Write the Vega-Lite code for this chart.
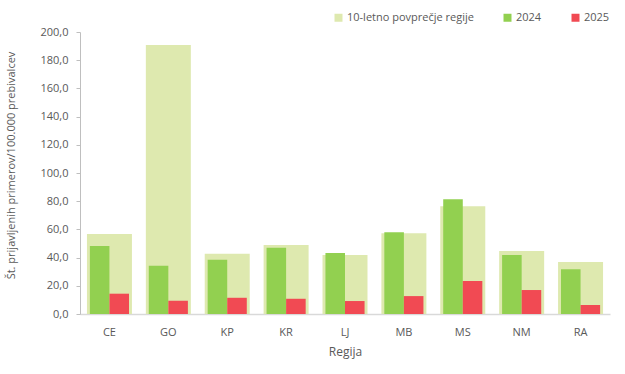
{
  "$schema": "https://vega.github.io/schema/vega-lite/v6.json",
  "width": 530,
  "height": 282,
  "autosize": "none",
  "padding": {"left": 80, "top": 32, "right": 15, "bottom": 60},
  "config": {
    "view": {"stroke": null},
    "font": "Open Sans",
    "axis": {"labelFont": "Open Sans", "titleFont": "Open Sans", "labelColor": "#595959", "titleColor": "#595959", "grid": false}
  },
  "data": {
    "values": [
      {"regija": "CE", "serija": "10-letno povprečje regije", "vrednost": 56.8},
      {"regija": "GO", "serija": "10-letno povprečje regije", "vrednost": 190.8},
      {"regija": "KP", "serija": "10-letno povprečje regije", "vrednost": 42.7},
      {"regija": "KR", "serija": "10-letno povprečje regije", "vrednost": 49.0},
      {"regija": "LJ", "serija": "10-letno povprečje regije", "vrednost": 41.8},
      {"regija": "MB", "serija": "10-letno povprečje regije", "vrednost": 57.3},
      {"regija": "MS", "serija": "10-letno povprečje regije", "vrednost": 76.4},
      {"regija": "NM", "serija": "10-letno povprečje regije", "vrednost": 44.6},
      {"regija": "RA", "serija": "10-letno povprečje regije", "vrednost": 36.8},
      {"regija": "CE", "serija": "2024", "vrednost": 48.3},
      {"regija": "GO", "serija": "2024", "vrednost": 34.2},
      {"regija": "KP", "serija": "2024", "vrednost": 38.4},
      {"regija": "KR", "serija": "2024", "vrednost": 46.9},
      {"regija": "LJ", "serija": "2024", "vrednost": 43.2},
      {"regija": "MB", "serija": "2024", "vrednost": 58.0},
      {"regija": "MS", "serija": "2024", "vrednost": 81.4},
      {"regija": "NM", "serija": "2024", "vrednost": 41.8},
      {"regija": "RA", "serija": "2024", "vrednost": 31.8},
      {"regija": "CE", "serija": "2025", "vrednost": 14.4},
      {"regija": "GO", "serija": "2025", "vrednost": 9.4},
      {"regija": "KP", "serija": "2025", "vrednost": 11.5},
      {"regija": "KR", "serija": "2025", "vrednost": 10.8},
      {"regija": "LJ", "serija": "2025", "vrednost": 9.2},
      {"regija": "MB", "serija": "2025", "vrednost": 12.7},
      {"regija": "MS", "serija": "2025", "vrednost": 23.4},
      {"regija": "NM", "serija": "2025", "vrednost": 17.0},
      {"regija": "RA", "serija": "2025", "vrednost": 6.4}
    ]
  },
  "encoding": {
    "x": {
      "field": "regija", "type": "nominal", "sort": null,
      "scale": {"paddingInner": 0.236, "paddingOuter": 0.118},
      "axis": {"title": "Regija", "labelAngle": 0, "ticks": false, "labelPadding": 12, "labelFontSize": 11, "titleFontSize": 12, "titleFontWeight": "normal", "titlePadding": 9, "domainColor": "#D9D9D9", "domainWidth": 1.5}
    },
    "y": {
      "field": "vrednost", "type": "quantitative",
      "scale": {"domain": [0, 200], "nice": false},
      "axis": {"title": "Št. prijavljenih primerov/100.000 prebivalcev", "values": [0, 20, 40, 60, 80, 100, 120, 140, 160, 180, 200], "labelExpr": "replace(format(datum.value, '.1f'), '.', ',')", "labelFontSize": 11, "titleFontSize": 11, "titleFontWeight": "normal", "tickSize": 4, "labelPadding": 8, "tickColor": "#BFBFBF", "domainColor": "#BFBFBF", "titleX": -64, "titleY": 133}
    },
    "color": {
      "field": "serija", "type": "nominal",
      "scale": {"domain": ["10-letno povprečje regije", "2024", "2025"], "range": ["#DEE9AF", "#92D050", "#F14A53"]},
      "legend": {"title": null, "orient": "none", "direction": "horizontal", "legendX": 253, "legendY": -20, "symbolType": "square", "symbolSize": 64, "symbolStrokeWidth": 0, "labelFontSize": 11, "labelColor": "#595959", "labelFont": "Open Sans", "columnPadding": 28, "labelOffset": 3}
    }
  },
  "layer": [
    {
      "transform": [{"filter": "datum.serija === '10-letno povprečje regije'"}],
      "mark": {"type": "bar"}
    },
    {
      "transform": [{"filter": "datum.serija !== '10-letno povprečje regije'"}],
      "mark": {"type": "bar"},
      "encoding": {
        "xOffset": {"field": "serija", "type": "nominal", "scale": {"paddingInner": 0, "paddingOuter": 0.15}}
      }
    }
  ]
}
